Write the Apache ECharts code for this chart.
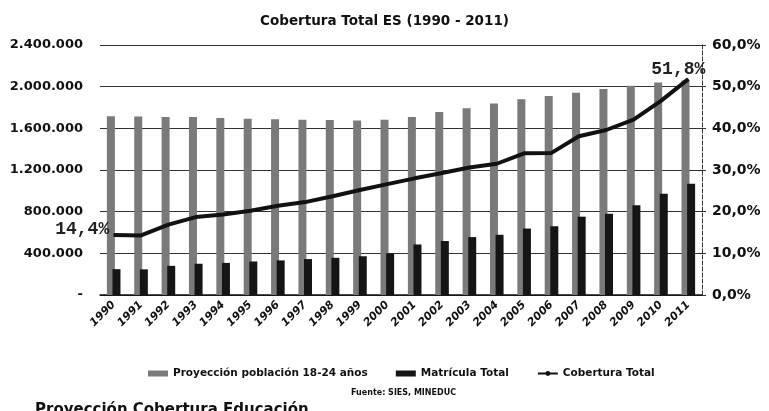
<!DOCTYPE html>
<html>
<head>
<meta charset="utf-8">
<script src="https://cdn.jsdelivr.net/npm/echarts@6/dist/echarts.min.js"></script>
<style>
  html, body { margin: 0; padding: 0; background: #fff; }
  #chart { width: 769px; height: 411px; }
</style>
</head>
<body>
<div id="chart"></div>
<script>
// años
const years = ['1990', '1991', '1992', '1993', '1994', '1995', '1996', '1997', '1998', '1999', '2000',
  '2001', '2002', '2003', '2004', '2005', '2006', '2007', '2008', '2009', '2010', '2011'];

// Proyección población 18-24 años
const poblacion = [1716000, 1713000, 1710000, 1708000, 1700000, 1692000, 1688000, 1682000, 1680000, 1676000, 1682000,
  1710000, 1758000, 1792000, 1838000, 1880000, 1910000, 1942000, 1978000, 2010000, 2040000, 2060000];

// Matrícula Total
const matricula = [248000, 246000, 280000, 300000, 308000, 322000, 332000, 345000, 357000, 372000, 400000,
  485000, 518000, 556000, 578000, 638000, 660000, 752000, 780000, 862000, 972000, 1068000];

// Cobertura Total (fracción)
const cobertura = [0.144, 0.143, 0.169, 0.187, 0.193, 0.202, 0.214, 0.223, 0.237, 0.252, 0.266,
  0.280, 0.293, 0.306, 0.315, 0.340, 0.341, 0.381, 0.396, 0.421, 0.466, 0.518];

const leftTicks = { min: 0, max: 2400000, interval: 400000 };
const rightTicks = { min: 0, max: 0.6, interval: 0.1 };

const boldFont = 'DejaVu Sans';

function fmtMiles (v) {
  if (v === 0) return '-';
  return String(v).replace(/\B(?=(\d{3})+(?!\d))/g, '.');
}
function fmtPct (v) {
  return (v * 100).toFixed(1).replace('.', ',') + '%';
}

const myChart = echarts.init(document.getElementById('chart'));
myChart.setOption({
  backgroundColor: '#fff',
  animation: false,
  title: {
    text: 'Cobertura Total ES (1990 - 2011)',
    left: 'center',
    top: 9,
    textStyle: { fontFamily: boldFont, fontSize: 13.5, fontWeight: 'bold', color: '#111' }
  },
  grid: { left: 100, right: 67, top: 45, bottom: 116 },
  legend: {
    left: 143,
    top: 363,
    itemWidth: 20,
    itemHeight: 6,
    itemGap: 28,
    textStyle: { fontFamily: boldFont, fontSize: 10.5, fontWeight: 'bold', color: '#111' },
    data: [
      { name: 'Proyección población 18-24 años', icon: 'rect' },
      { name: 'Matrícula Total', icon: 'rect' },
      { name: 'Cobertura Total' }
    ]
  },
  xAxis: {
    type: 'category',
    data: years,
    boundaryGap: true,
    axisLine: { lineStyle: { color: '#111', width: 1.5 } },
    axisTick: { show: false },
    axisLabel: {
      rotate: 45,
      margin: 8,
      fontFamily: boldFont,
      fontSize: 11,
      fontWeight: 'bold',
      fontStyle: 'italic',
      color: '#111'
    }
  },
  yAxis: [
    {
      type: 'value',
      min: leftTicks.min,
      max: leftTicks.max,
      interval: leftTicks.interval,
      axisLine: { show: false },
      axisTick: { show: false },
      splitLine: { lineStyle: { color: '#333', width: 1 } },
      axisLabel: {
        margin: 17,
        formatter: fmtMiles,
        fontFamily: boldFont,
        fontSize: 13,
        fontWeight: 'bold',
        color: '#111'
      }
    },
    {
      type: 'value',
      min: rightTicks.min,
      max: rightTicks.max,
      interval: rightTicks.interval,
      position: 'right',
      axisLine: { show: true, lineStyle: { color: '#333', width: 1, type: 'dashed' } },
      axisTick: { show: true, length: 4, lineStyle: { color: '#333' } },
      splitLine: { show: false },
      axisLabel: {
        margin: 10,
        formatter: fmtPct,
        fontFamily: boldFont,
        fontSize: 14,
        fontWeight: 'bold',
        color: '#111'
      }
    }
  ],
  series: [
    {
      name: 'Proyección población 18-24 años',
      type: 'bar',
      data: poblacion,
      barWidth: 8,
      barGap: '-30%',
      itemStyle: { color: '#7a7a7a' }
    },
    {
      name: 'Matrícula Total',
      type: 'bar',
      data: matricula,
      barWidth: 8,
      itemStyle: { color: '#151515' }
    },
    {
      name: 'Cobertura Total',
      type: 'line',
      yAxisIndex: 1,
      data: cobertura.map((v, i) => {
        if (i === 0) {
          return { value: v, label: { show: true, position: 'left', distance: 4, offset: [0, -6] } };
        }
        if (i === cobertura.length - 1) {
          return { value: v, label: { show: true, position: 'top', distance: 8, offset: [-10, 8] } };
        }
        return v;
      }),
      symbol: 'circle',
      symbolSize: 1,
      showSymbol: true,
      lineStyle: { color: '#111', width: 4 },
      itemStyle: { color: '#111' },
      label: {
        show: false,
        formatter: p => fmtPct(p.value),
        fontFamily: 'Liberation Mono',
        fontSize: 18,
        fontWeight: 'bold',
        color: '#222'
      },
      z: 5
    }
  ],
  graphic: [
    {
      type: 'text',
      left: 351,
      top: 389,
      style: {
        text: 'Fuente: SIES, MINEDUC',
        fontFamily: boldFont,
        fontSize: 8,
        fontWeight: 'bold',
        fill: '#111'
      }
    },
    {
      type: 'text',
      left: 35,
      top: 403,
      style: {
        text: 'Proyección Cobertura Educación',
        fontFamily: boldFont,
        fontSize: 15,
        fontWeight: 'bold',
        fill: '#111'
      }
    }
  ]
});
</script>
</body>
</html>
